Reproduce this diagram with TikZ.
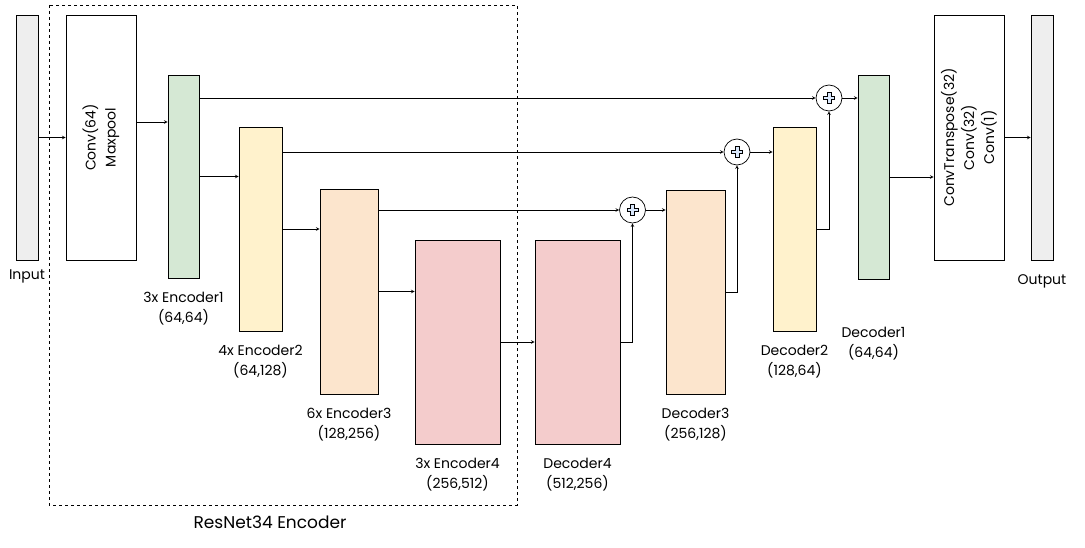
\documentclass[tikz,border=0pt]{standalone}
\usepackage{tikz}
\usepackage{fontspec}
\setmainfont{Poppins}
\definecolor{encgreen}{HTML}{D5E8D4}
\definecolor{encyellow}{HTML}{FFF2CC}
\definecolor{encorange}{HTML}{FCE5CD}
\definecolor{encpink}{HTML}{F4CCCC}
\definecolor{iogray}{HTML}{EEEEEE}
\definecolor{plusblue}{HTML}{DAE8FC}

\begin{document}
\begin{tikzpicture}[x=1pt, y=-1pt,
		block/.style={draw, line width=0.9pt, rectangle, inner sep=0pt},
		lbl/.style={align=center, font=\fontsize{14}{20}\selectfont},
		below lbl/.style={lbl, label distance=10pt},
		addop/.style={draw, circle, line width=0.7pt, minimum size=26pt, inner sep=0pt},
		link/.style={->, >=stealth, line width=0.6pt}]
				\useasboundingbox (0,0) rectangle (1085,548);
				% encoder frame
				\draw[dashed, line width=0.6pt] (49,5) rectangle (517,505);
				\node[lbl, font=\fontsize{17}{20}\selectfont] (resnet)at(270, 522) {ResNet34 Encoder};
				% blocks
				\node[block, fill=iogray, minimum width=22pt, minimum height=245pt, label={[lbl, label distance=6pt]below:Input}] (inp)at(27, 137.5) {};
				\node[block, fill=white, minimum width=70pt, minimum height=245pt] (conv)at(101, 137.5) {};
				\node[lbl, rotate=90] (convtxt)at(conv) {Conv(64)\\Maxpool};
				\node[block, fill=encgreen, minimum width=31pt, minimum height=203pt, label={[below lbl]below:3x Encoder1\\(64,64)}] (enc1)at(183.5, 176.5) {};
				\node[block, fill=encyellow, minimum width=43pt, minimum height=204pt, label={[below lbl]below:4x Encoder2\\(64,128)}] (enc2)at(260.5, 229) {};
				\node[block, fill=encorange, minimum width=58pt, minimum height=205pt, label={[below lbl]below:6x Encoder3\\(128,256)}] (enc3)at(349, 291.5) {};
				\node[block, fill=encpink, minimum width=85pt, minimum height=204pt, label={[below lbl]below:3x Encoder4\\(256,512)}] (enc4)at(457.5, 342) {};
				\node[block, fill=encpink, minimum width=85pt, minimum height=204pt, label={[below lbl]below:Decoder4\\(512,256)}] (dec4)at(577.5, 342) {};
				\node[block, fill=encorange, minimum width=59pt, minimum height=204pt, label={[below lbl]below:Decoder3\\(256,128)}] (dec3)at(695.5, 292) {};
				\node[block, fill=encyellow, minimum width=43pt, minimum height=204pt, label={[below lbl]below:Decoder2\\(128,64)}] (dec2)at(794.5, 229) {};
				\node[block, fill=encgreen, minimum width=31pt, minimum height=204pt, label={[lbl, label distance=44pt]below:Decoder1\\(64,64)}] (dec1)at(873.5, 177) {};
				\node[block, fill=white, minimum width=70pt, minimum height=245pt] (final)at(969, 137.5) {};
				\node[lbl, rotate=90] (finaltxt)at(final) {ConvTranspose(32)\\Conv(32)\\Conv(1)};
				\node[block, fill=iogray, minimum width=22pt, minimum height=245pt, label={[lbl, label distance=11pt]below:Output}] (outp)at(1042, 137.5) {};
				% additions
				\node[addop] (p3)at(632.5, 210) {};
				\node[addop] (p2)at(737, 152) {};
				\node[addop] (p1)at(829, 98) {};
				\foreach \p in {p1, p2, p3}
					\draw[fill=plusblue, line width=0.6pt] (\p) ++(-1.8,-5.4) -- ++(3.6,0) -- ++(0,3.6) -- ++(3.6,0) -- ++(0,3.6) -- ++(-3.6,0) -- ++(0,3.6) -- ++(-3.6,0) -- ++(0,-3.6) -- ++(-3.6,0) -- ++(0,-3.6) -- ++(3.6,0) -- cycle;
				% encoder path
				\draw[link] (inp.east) -- (conv.west);
				\draw[link] ([yshift=15.5pt]conv.east) -- ([yshift=15.5pt]conv.east -| enc1.west);
				\draw[link] (enc1.east) -- (enc1.east -| enc2.west);
				\draw[link] (enc2.east) -- (enc2.east -| enc3.west);
				\draw[link] (enc3.east) -- (enc3.east -| enc4.west);
				\draw[link] (enc4.east) -- (dec4.west);
				% skips
				\draw[link] (enc1.east |- p1) -- (p1);
				\draw[link] (enc2.east |- p2) -- (p2);
				\draw[link] (enc3.east |- p3) -- (p3);
				% decoder path
				\draw[link] (dec4.east) -| (p3);
				\draw[link] (p3) -- (p3 -| dec3.west);
				\draw[link] (dec3.east) -| (p2);
				\draw[link] (p2) -- (p2 -| dec2.west);
				\draw[link] (dec2.east) -| (p1);
				\draw[link] (p1) -- (p1 -| dec1.west);
				\draw[link] (dec1.east) -- (dec1.east -| final.west);
				\draw[link] (final.east) -- (outp.west);
			\end{tikzpicture}
\end{document}
